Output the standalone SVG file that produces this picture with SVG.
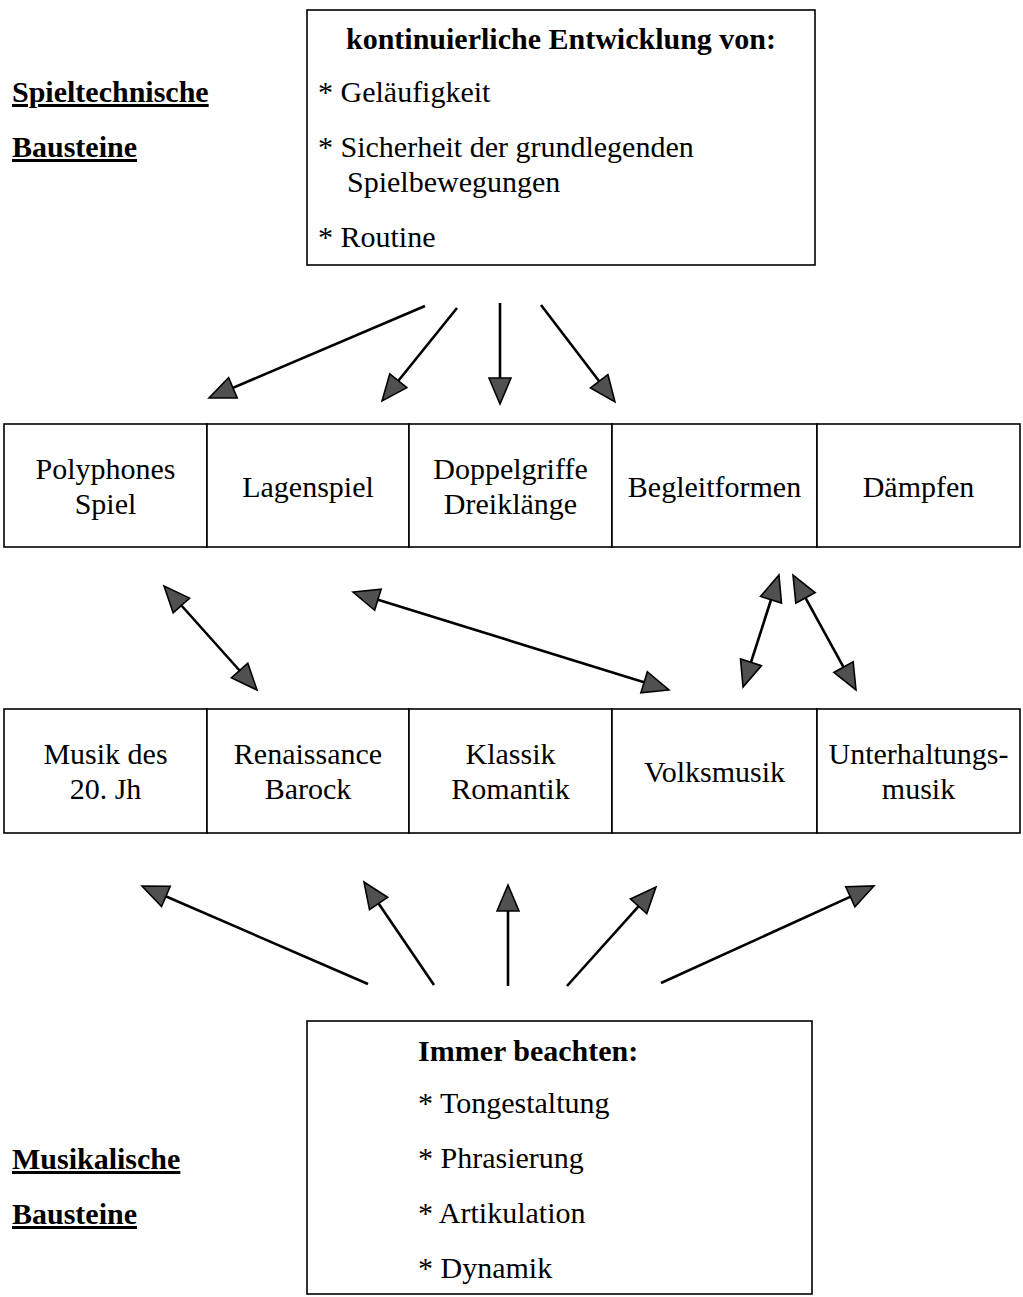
<svg xmlns="http://www.w3.org/2000/svg" width="1023" height="1297" viewBox="0 0 1023 1297">
<style>
text{font-family:"Liberation Serif","Times New Roman",serif;font-size:30px;fill:#000}
.b{font-weight:bold}
.u{text-decoration:underline}
.c{text-anchor:middle}
.box{fill:#fff;stroke:#000;stroke-width:1.6}
.con line{stroke:#000;stroke-width:2.6}
.one{marker-end:url(#ah)}
.two{marker-start:url(#ah);marker-end:url(#ah)}
</style>
<defs>
<marker id="ah" viewBox="0 0 26 22" markerWidth="26" markerHeight="22" refX="16" refY="11" orient="auto-start-reverse" markerUnits="userSpaceOnUse" overflow="visible">
<path d="M0,0 L26,11 L0,22 Z" fill="#505050" stroke="#000" stroke-width="1.6" stroke-linejoin="miter"/>
</marker>
</defs>
<rect width="1023" height="1297" fill="#fff"/>

<g id="label-spieltechnisch">
<text x="12" y="102" class="b u">Spieltechnische</text>
<text x="12" y="157" class="b u">Bausteine</text>
</g>

<g id="top-box">
<rect class="box" x="307" y="10" width="508" height="255"/>
<text x="561" y="49" class="b c">kontinuierliche Entwicklung von:</text>
<text x="318" y="102">* Geläufigkeit</text>
<text x="318" y="157">* Sicherheit der grundlegenden</text>
<text x="347" y="192">Spielbewegungen</text>
<text x="318" y="247">* Routine</text>
</g>

<g id="row1">
<g id="polyphones"><rect class="box" x="4" y="424" width="203" height="123"/><text x="105.5" y="479" class="c">Polyphones</text><text x="105.5" y="514" class="c">Spiel</text></g>
<g id="lagenspiel"><rect class="box" x="207" y="424" width="202" height="123"/><text x="308" y="497" class="c">Lagenspiel</text></g>
<g id="doppelgriffe"><rect class="box" x="409" y="424" width="203" height="123"/><text x="510.5" y="479" class="c">Doppelgriffe</text><text x="510.5" y="514" class="c">Dreiklänge</text></g>
<g id="begleitformen"><rect class="box" x="612" y="424" width="205" height="123"/><text x="714.5" y="497" class="c">Begleitformen</text></g>
<g id="daempfen"><rect class="box" x="817" y="424" width="203" height="123"/><text x="918.5" y="497" class="c">Dämpfen</text></g>
</g>

<g id="row2">
<g id="musik20"><rect class="box" x="4" y="709" width="203" height="124"/><text x="105.5" y="764" class="c">Musik des</text><text x="105.5" y="799" class="c">20. Jh</text></g>
<g id="renaissance"><rect class="box" x="207" y="709" width="202" height="124"/><text x="308" y="764" class="c">Renaissance</text><text x="308" y="799" class="c">Barock</text></g>
<g id="klassik"><rect class="box" x="409" y="709" width="203" height="124"/><text x="510.5" y="764" class="c">Klassik</text><text x="510.5" y="799" class="c">Romantik</text></g>
<g id="volksmusik"><rect class="box" x="612" y="709" width="205" height="124"/><text x="714.5" y="782" class="c">Volksmusik</text></g>
<g id="unterhaltung"><rect class="box" x="817" y="709" width="203" height="124"/><text x="918.5" y="764" class="c">Unterhaltungs-</text><text x="918.5" y="799" class="c">musik</text></g>
</g>

<g id="bottom-box">
<rect class="box" x="307" y="1021" width="505" height="273"/>
<text x="418" y="1061" class="b">Immer beachten:</text>
<text x="418" y="1113">* Tongestaltung</text>
<text x="418" y="1168">* Phrasierung</text>
<text x="418" y="1223">* Artikulation</text>
<text x="418" y="1278">* Dynamik</text>
</g>

<g id="label-musikalisch">
<text x="12" y="1169" class="b u">Musikalische</text>
<text x="12" y="1224" class="b u">Bausteine</text>
</g>

<g id="connectors" class="con">
<line class="one" x1="425" y1="306" x2="218.2" y2="394.1"/>
<line class="one" x1="457" y1="308" x2="388.3" y2="393.2"/>
<line class="one" x1="500" y1="303" x2="500" y2="394"/>
<line class="one" x1="541" y1="305" x2="608.9" y2="394"/>

<line class="two" x1="170.7" y1="593.5" x2="250.3" y2="682.5"/>
<line class="two" x1="362.6" y1="595" x2="659.4" y2="687"/>
<line class="two" x1="775.9" y1="584.5" x2="746.1" y2="677.5"/>
<line class="two" x1="797.8" y1="583.8" x2="851.2" y2="681.2"/>

<line class="one" x1="368" y1="984" x2="151.2" y2="890"/>
<line class="one" x1="434" y1="985" x2="369.6" y2="890.3"/>
<line class="one" x1="508" y1="986" x2="508" y2="895"/>
<line class="one" x1="567" y1="986" x2="649.3" y2="894.4"/>
<line class="one" x1="661" y1="983" x2="864.9" y2="890.1"/>
</g>
</svg>
